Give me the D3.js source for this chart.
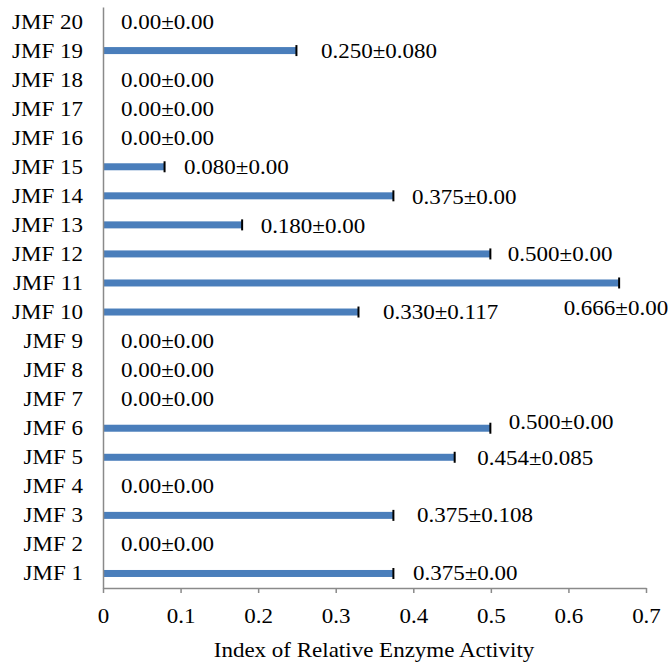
<!DOCTYPE html>
<html><head><meta charset="utf-8">
<script src="https://cdn.jsdelivr.net/npm/d3@7"></script>
<style>body{margin:0;background:#fff}</style>
</head><body><svg id="c" width="671" height="666"></svg>
<script>
const categories = ["JMF 1","JMF 2","JMF 3","JMF 4","JMF 5","JMF 6","JMF 7","JMF 8","JMF 9","JMF 10","JMF 11","JMF 12","JMF 13","JMF 14","JMF 15","JMF 16","JMF 17","JMF 18","JMF 19","JMF 20"];
const values = [0.375,0,0.375,0,0.454,0.5,0,0,0,0.330,0.666,0.5,0.180,0.375,0.080,0,0,0,0.250,0];
const errors = [0,0,0.108,0,0.085,0,0,0,0,0.117,0,0,0,0,0,0,0,0,0.080,0];
const labels = ["0.375±0.00","0.00±0.00","0.375±0.108","0.00±0.00","0.454±0.085","0.500±0.00","0.00±0.00","0.00±0.00","0.00±0.00","0.330±0.117","0.666±0.00","0.500±0.00","0.180±0.00","0.375±0.00","0.080±0.00","0.00±0.00","0.00±0.00","0.00±0.00","0.250±0.080","0.00±0.00"];
const xTicks = [0,0.1,0.2,0.3,0.4,0.5,0.6,0.7];
// layout: label offsets (dx from bar end, dy from band center)
const labelDx = [19,18,23,18,22,18,18,18,18,24,-56,17,18,18,19,18,18,18,24,18];
const labelDy = [0,0,0,0,1,-6,0,0,0,0,25,0,1,1,0,0,0,0,0,0];

const SX = 1.15, FS = 20, FF = '"Liberation Serif", "Times New Roman", serif';
const svg = d3.select("#c");
const x = d3.scaleLinear().domain([0,0.7]).range([103,646]);
const y = d3.scaleBand().domain(categories.slice().reverse()).range([7,588]);
const axisColor = "#8a8a8a";

const data = categories.map((c,i)=>({c, v:values[i], e:errors[i], l:labels[i], dx:labelDx[i], dy:labelDy[i]}));
svg.append("g").selectAll("rect").data(data.filter(d=>d.v>0)).join("rect")
  .attr("x", x(0)).attr("y", d=>y(d.c)+y.bandwidth()/2-3.5)
  .attr("width", d=>x(d.v)-x(0)).attr("height", 7).attr("fill", "#4a7ebb");
svg.append("g").selectAll("line").data(data.filter(d=>d.v>0)).join("line")
  .attr("x1", d=>x(d.v)-0.5).attr("x2", d=>x(d.v)-0.5)
  .attr("y1", d=>y(d.c)+y.bandwidth()/2-5.5).attr("y2", d=>y(d.c)+y.bandwidth()/2+5.5)
  .attr("stroke", "#000").attr("stroke-width", 2);

svg.append("g").selectAll("text").data(data).join("text")
  .attr("transform", d=>`translate(${x(d.v)+d.dx},${y(d.c)+y.bandwidth()/2+d.dy}) scale(${SX},1)`)
  .attr("dy","0.35em").style("font-size", FS+"px").style("font-family", FF).style("fill","#000").text(d=>d.l);

const ya = svg.append("g").attr("transform", `translate(${x(0)},0)`)
  .call(d3.axisLeft(y).tickSize(0).tickPadding(0));
ya.select(".domain").attr("stroke", axisColor).attr("stroke-width", 1.5);
ya.selectAll("text").attr("x", null).attr("dy","0.35em")
  .attr("transform", `translate(-20,0) scale(${SX},1)`)
  .style("font-size", FS+"px").style("font-family", FF).style("fill","#000");

const xa = svg.append("g").attr("transform", `translate(0,${y.range()[1]})`)
  .call(d3.axisBottom(x).tickValues(xTicks).tickSize(5).tickSizeOuter(0).tickFormat(d=>d===0?"0":d3.format(".1f")(d)));
xa.select(".domain").attr("stroke", axisColor).attr("stroke-width", 1.5);
xa.selectAll(".tick line").attr("stroke", axisColor).attr("stroke-width", 1.5);
xa.selectAll("text").attr("y", null).attr("dy", "0.35em")
  .attr("transform", `translate(0,28) scale(${SX},1)`)
  .style("font-size", FS+"px").style("font-family", FF).style("fill","#000");

svg.append("text").attr("transform", `translate(374,657) scale(${SX},1)`)
  .attr("text-anchor","middle").style("font-size", FS+"px").style("font-family", FF).style("fill","#000")
  .text("Index of Relative Enzyme Activity");
</script></body></html>
